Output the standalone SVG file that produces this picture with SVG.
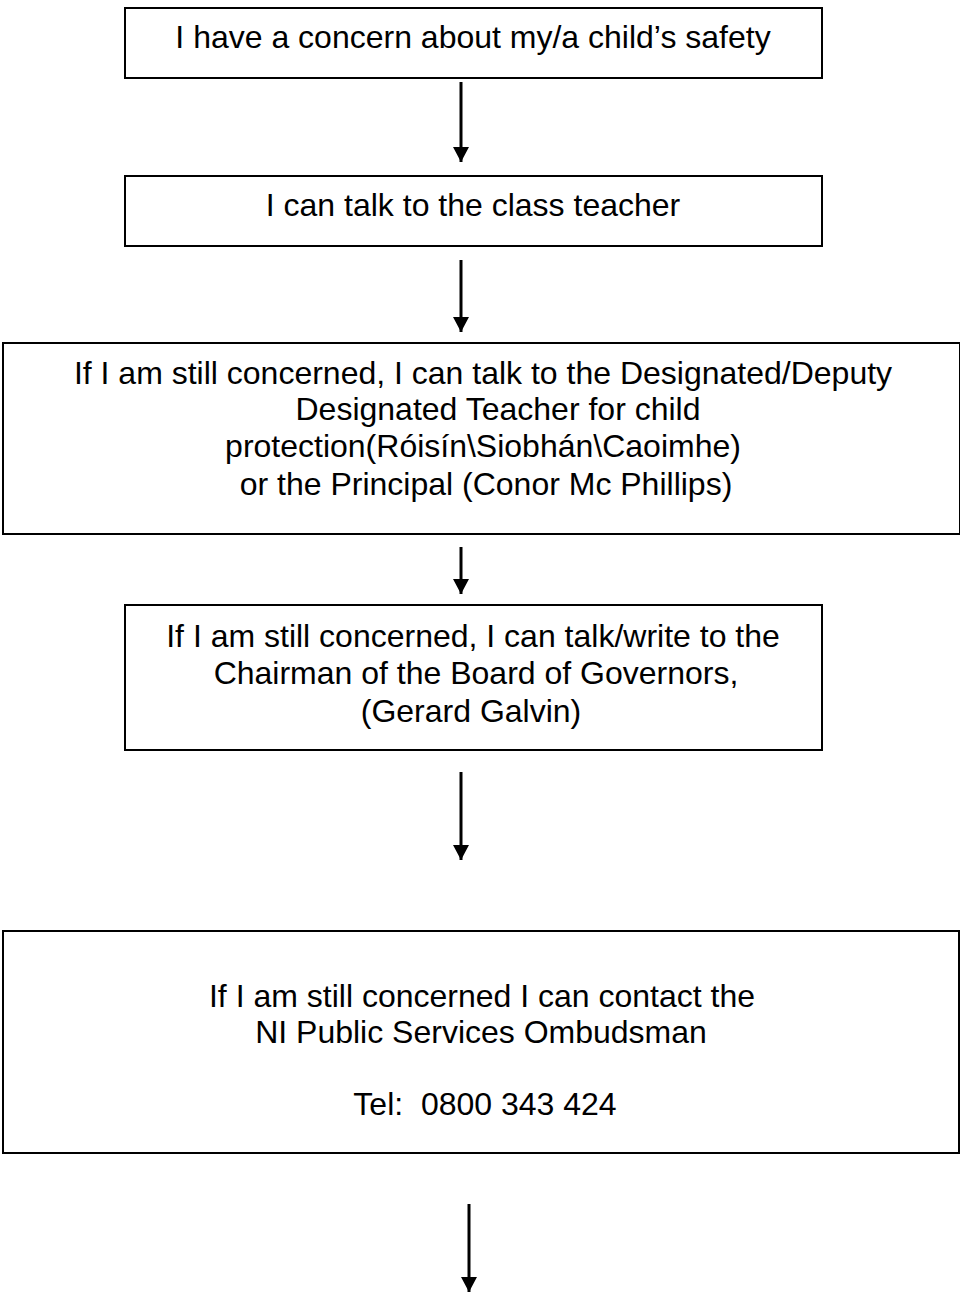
<svg xmlns="http://www.w3.org/2000/svg" width="960" height="1293" viewBox="0 0 960 1293">
<style>
.box{fill:#fff;stroke:#000;stroke-width:2}
.t{font-family:"Liberation Sans",Arial,sans-serif;font-size:32px;fill:#000;text-anchor:middle}
.c{stroke:#000;stroke-width:3;fill:none}
</style>
<defs>
<marker id="ah" viewBox="0 0 16 17" refX="16" refY="8.5" markerWidth="17" markerHeight="16" markerUnits="userSpaceOnUse" orient="auto">
<path d="M0,0 L16,8.5 L0,17 Z" fill="#000"/>
</marker>
</defs>
<rect width="960" height="1293" fill="#fff"/>
<g id="n1">
<rect class="box" x="125" y="8" width="697" height="70"/>
<text class="t" x="473" y="48">I have a concern about my/a child’s safety</text>
</g>
<g id="n2">
<rect class="box" x="125" y="176" width="697" height="70"/>
<text class="t" x="473" y="216">I can talk to the class teacher</text>
</g>
<g id="n3">
<rect class="box" x="3" y="343" width="957" height="191"/>
<text class="t" x="483" y="384">If I am still concerned, I can talk to the Designated/Deputy</text>
<text class="t" x="498" y="420">Designated Teacher for child</text>
<text class="t" x="483" y="457">protection(Róisín\Siobhán\Caoimhe)</text>
<text class="t" x="486" y="495">or the Principal (Conor Mc Phillips)</text>
</g>
<g id="n4">
<rect class="box" x="125" y="605" width="697" height="145"/>
<text class="t" x="473" y="647">If I am still concerned, I can talk/write to the</text>
<text class="t" x="476" y="684">Chairman of the Board of Governors,</text>
<text class="t" x="471" y="722">(Gerard Galvin)</text>
</g>
<g id="n5">
<rect class="box" x="3" y="931" width="956" height="222"/>
<text class="t" x="482" y="1007">If I am still concerned I can contact the</text>
<text class="t" x="481" y="1043">NI Public Services Ombudsman</text>
<text class="t" x="485" y="1115" xml:space="preserve">Tel:  0800 343 424</text>
</g>
<g id="connectors">
<line class="c" x1="461" y1="82" x2="461" y2="162" marker-end="url(#ah)"/>
<line class="c" x1="461" y1="260" x2="461" y2="332" marker-end="url(#ah)"/>
<line class="c" x1="461" y1="547" x2="461" y2="594" marker-end="url(#ah)"/>
<line class="c" x1="461" y1="772" x2="461" y2="860" marker-end="url(#ah)"/>
<line class="c" x1="469" y1="1204" x2="469" y2="1292" marker-end="url(#ah)"/>
</g>
</svg>
